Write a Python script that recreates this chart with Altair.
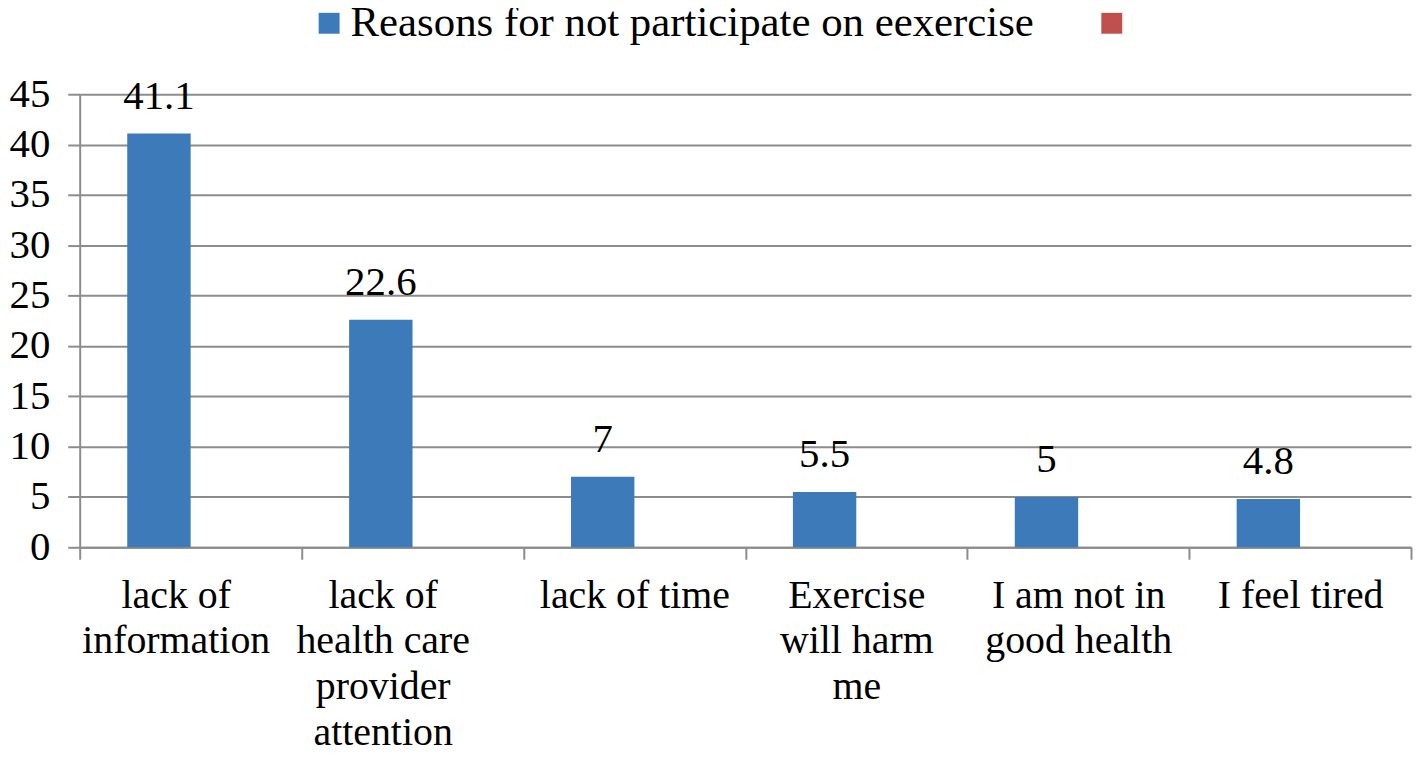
import altair as alt
import pandas as pd

# ---- data ----
categories = [
    "lack of|information",
    "lack of|health care|provider|attention",
    "lack of time",
    "Exercise|will harm|me",
    "I am not in|good health",
    "I feel tired",
]
values = [41.1, 22.6, 7, 5.5, 5, 4.8]
series_names = ["Reasons for not participate on eexercise", "Series2"]
series_colors = ["#3D7AB9", "#C0504D"]
y_ticks = [0, 5, 10, 15, 20, 25, 30, 35, 40, 45]

# trailing no-break spaces nudge the first two wrapped labels left, as in the source
label_pad = [3, 6, 0, 0, 0, 0]

df = pd.DataFrame({
    "label": categories,
    "value": values,
    "series": [series_names[0]] * len(categories),
})

FONT = "Liberation Serif"
GRAY = "#8C8C8C"
NBSP = "\u00a0"
ZWSP = "\u200b"  # keeps the padding from being trimmed

# build the label expression (split on '|', pad lines where needed)
expr = "split(datum.label, '|')"
for cat, p in reversed(list(zip(categories, label_pad))):
    if p:
        padded = "|".join(line + NBSP * p + ZWSP for line in cat.split("|"))
        expr = f"datum.label == '{cat}' ? split('{padded}', '|') : ({expr})"

x_enc = alt.X(
    "label:N",
    sort=categories,
    scale=alt.Scale(paddingInner=0, paddingOuter=0),
    axis=alt.Axis(
        title=None,
        labelAngle=0,
        labelExpr=expr,
        labelFont=FONT,
        labelFontSize=40,
        labelLineHeight=46,
        labelColor="black",
        labelPadding=16,
        labelLimit=1000,
        labelOverlap=False,
        labelBound=False,
        tickBand="extent",
        tickSize=12,
        tickColor=GRAY,
        tickWidth=2,
        domainColor=GRAY,
        domainWidth=2,
        grid=False,
    ),
)

xoff_enc = alt.XOffset(
    "series:N",
    scale=alt.Scale(domain=series_names, paddingOuter=0.75, paddingInner=0),
)

y_enc = alt.Y(
    "value:Q",
    scale=alt.Scale(domain=[0, 45], nice=False),
    axis=alt.Axis(
        title=None,
        values=y_ticks,
        labelFont=FONT,
        labelFontSize=41,
        labelColor="black",
        labelPadding=18,
        tickSize=12,
        tickColor=GRAY,
        tickWidth=2,
        domainColor=GRAY,
        domainWidth=2,
        grid=True,
        gridColor=GRAY,
        gridWidth=2,
    ),
)

bars = alt.Chart(df).mark_bar().encode(
    x=x_enc,
    xOffset=xoff_enc,
    y=y_enc,
    color=alt.Color(
        "series:N",
        scale=alt.Scale(domain=series_names, range=series_colors),
        legend=alt.Legend(
            title=None,
            orient="none",
            legendX=229,
            legendY=-93,
            direction="horizontal",
            symbolType="square",
            symbolSize=441,
            symbolStrokeWidth=0,
            symbolOpacity=1,
            labelFont=FONT,
            labelFontSize=43,
            labelColor="black",
            labelOffset=0,
            labelLimit=1000,
            columnPadding=56,
            padding=0,
            labelExpr="datum.value == 'Series2' ? '' : datum.label",
        ),
    ),
)

texts = alt.Chart(df).mark_text(
    baseline="alphabetic",
    dy=-25,
    font=FONT,
    fontSize=41,
    color="black",
).encode(
    x=alt.X("label:N", sort=categories),
    xOffset=alt.XOffset("series:N"),
    y=alt.Y("value:Q"),
    text=alt.Text("value:Q"),
)

chart = alt.layer(bars, texts).properties(
    width=1337,
    height=455,
    autosize=alt.AutoSizeParams(type="none"),
    padding={"left": 72, "top": 85, "right": 2, "bottom": 205},
    background="white",
).configure_view(stroke=None)

chart.save("out.html", embed_options={"renderer": "svg", "actions": False})
